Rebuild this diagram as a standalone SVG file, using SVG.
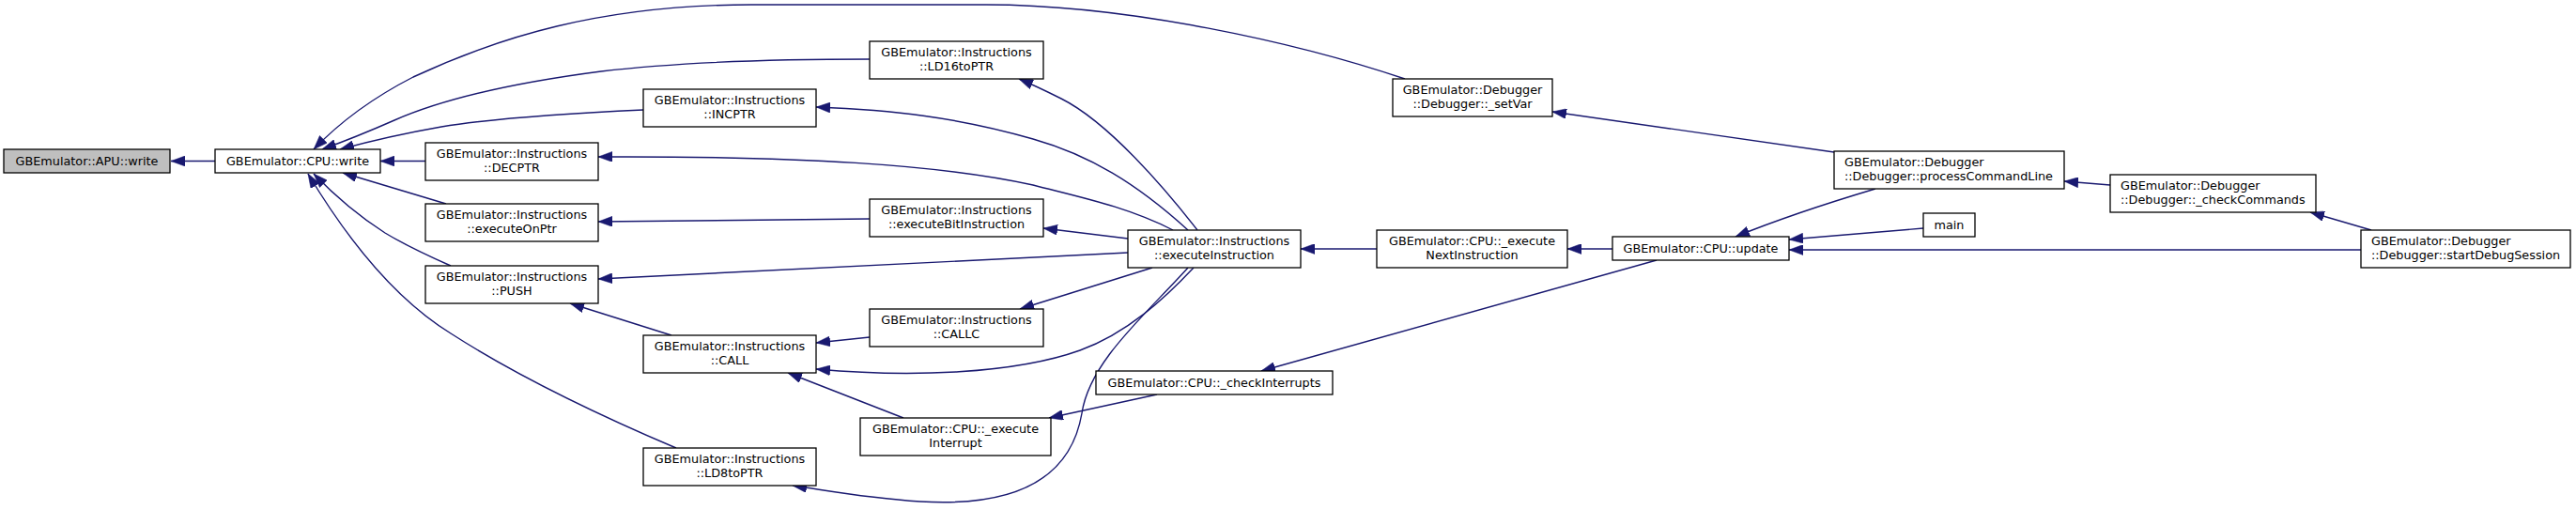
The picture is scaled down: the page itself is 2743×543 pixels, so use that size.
<svg xmlns="http://www.w3.org/2000/svg" width="2743" height="543" viewBox="0 0 2743 543">
<style>
.node rect{fill:#ffffff;stroke:#000000;stroke-width:1.3}
.root rect{fill:#bfbfbf}
text{font-family:"DejaVu Sans",sans-serif;font-size:12.8px;fill:#000000}
.c{text-anchor:middle}
.l{text-anchor:start}
.edge{fill:none;stroke:#191970;stroke-width:1.4;marker-end:url(#arr)}
</style>
<defs>
<marker id="arr" markerUnits="userSpaceOnUse" markerWidth="15" markerHeight="11" viewBox="0 0 15 11" refX="15" refY="5.5" orient="auto">
<path d="M0,0 L15,5.5 L0,11 z" fill="#191970" stroke="#191970" stroke-width="0.5"/>
</marker>
</defs>
<rect x="0" y="0" width="2743" height="543" fill="#ffffff"/>
<g id="edges">
<path class="edge" d="M229,171.5 L182,171.5"/>
<path class="edge" d="M1496,84 C1380,45 1200,5 1050,5 L800,5 C640,5 530,40 440,82 C395,105 360,132 334,159"/>
<path class="edge" d="M926,63 C850,63 740,64 640,76 C540,89 470,106 420,128 C395,139 368,150 343,159"/>
<path class="edge" d="M685,117 C620,120 530,125 470,135 C430,142 395,150 362,159"/>
<path class="edge" d="M453,171.5 L405,171.5"/>
<path class="edge" d="M475,217 L365,184"/>
<path class="edge" d="M480,283 C455,272 430,260 410,248 C385,232 360,212 334,185"/>
<path class="edge" d="M720,477 C640,443 550,400 480,355 C420,318 370,255 328,185"/>
<path class="edge" d="M1275,245 C1240,200 1180,130 1130,105 C1110,95 1097,89 1085,84"/>
<path class="edge" d="M1265,245 C1210,195 1160,165 1100,148 C1020,125 950,117 869,114"/>
<path class="edge" d="M1249,245 C1200,220 1150,210 1100,197 C1000,175 850,166 637,167"/>
<path class="edge" d="M926,233 L637,236"/>
<path class="edge" d="M1201,254 L1111,243"/>
<path class="edge" d="M1201,269 L637,297"/>
<path class="edge" d="M1227,285 L1086,329"/>
<path class="edge" d="M1271,285 C1240,318 1200,355 1150,373 C1080,398 970,402 869,393"/>
<path class="edge" d="M1265,285 C1220,335 1160,385 1152,440 C1140,510 1080,540 980,534 C920,530 880,522 844,517"/>
<path class="edge" d="M715,357 L607,323"/>
<path class="edge" d="M926,359 L869,365"/>
<path class="edge" d="M962,445 L839,397"/>
<path class="edge" d="M1232,420 L1117,445"/>
<path class="edge" d="M1466,265 L1385,265"/>
<path class="edge" d="M1717,265 L1669,265"/>
<path class="edge" d="M1764,277 L1343,395"/>
<path class="edge" d="M1953,162 L1653,119"/>
<path class="edge" d="M1997,201 C1950,215 1890,235 1848,252"/>
<path class="edge" d="M2048,243 L1905,255"/>
<path class="edge" d="M2514,266 L1905,266"/>
<path class="edge" d="M2247,197 L2198,193"/>
<path class="edge" d="M2525,245 L2460,226"/>
</g>
<g id="n_apu_write" class="node root"><rect x="4" y="159" width="177" height="25"/><text class="c" x="92.5" y="175.5">GBEmulator::APU::write</text></g>
<g id="n_cpu_write" class="node"><rect x="229" y="159" width="176" height="25"/><text class="c" x="317" y="175.5">GBEmulator::CPU::write</text></g>
<g id="n_ld16toptr" class="node"><rect x="926" y="44" width="185" height="40"/><text class="c" x="1018.5" y="60">GBEmulator::Instructions</text><text class="c" x="1018.5" y="75">::LD16toPTR</text></g>
<g id="n_incptr" class="node"><rect x="685" y="95" width="184" height="40"/><text class="c" x="777" y="111">GBEmulator::Instructions</text><text class="c" x="777" y="126">::INCPTR</text></g>
<g id="n_decptr" class="node"><rect x="453" y="152" width="184" height="40"/><text class="c" x="545" y="168">GBEmulator::Instructions</text><text class="c" x="545" y="183">::DECPTR</text></g>
<g id="n_executeonptr" class="node"><rect x="453" y="217" width="184" height="40"/><text class="c" x="545" y="233">GBEmulator::Instructions</text><text class="c" x="545" y="248">::executeOnPtr</text></g>
<g id="n_push" class="node"><rect x="453" y="283" width="184" height="40"/><text class="c" x="545" y="299">GBEmulator::Instructions</text><text class="c" x="545" y="314">::PUSH</text></g>
<g id="n_executebitinstruction" class="node"><rect x="926" y="212" width="185" height="40"/><text class="c" x="1018.5" y="228">GBEmulator::Instructions</text><text class="c" x="1018.5" y="243">::executeBitInstruction</text></g>
<g id="n_executeinstruction" class="node"><rect x="1201" y="245" width="184" height="40"/><text class="c" x="1293" y="261">GBEmulator::Instructions</text><text class="c" x="1293" y="276">::executeInstruction</text></g>
<g id="n_callc" class="node"><rect x="926" y="329" width="185" height="40"/><text class="c" x="1018.5" y="345">GBEmulator::Instructions</text><text class="c" x="1018.5" y="360">::CALLC</text></g>
<g id="n_call" class="node"><rect x="685" y="357" width="184" height="40"/><text class="c" x="777" y="373">GBEmulator::Instructions</text><text class="c" x="777" y="388">::CALL</text></g>
<g id="n_executeinterrupt" class="node"><rect x="916" y="445" width="203" height="40"/><text class="c" x="1017.5" y="461">GBEmulator::CPU::_execute</text><text class="c" x="1017.5" y="476">Interrupt</text></g>
<g id="n_ld8toptr" class="node"><rect x="685" y="477" width="184" height="40"/><text class="c" x="777" y="493">GBEmulator::Instructions</text><text class="c" x="777" y="508">::LD8toPTR</text></g>
<g id="n_checkinterrupts" class="node"><rect x="1167" y="395" width="252" height="25"/><text class="c" x="1293" y="411.5">GBEmulator::CPU::_checkInterrupts</text></g>
<g id="n_executenextinstruction" class="node"><rect x="1466" y="245" width="203" height="40"/><text class="c" x="1567.5" y="261">GBEmulator::CPU::_execute</text><text class="c" x="1567.5" y="276">NextInstruction</text></g>
<g id="n_cpu_update" class="node"><rect x="1717" y="252" width="188" height="25"/><text class="c" x="1811" y="268.5">GBEmulator::CPU::update</text></g>
<g id="n_setvar" class="node"><rect x="1483" y="84" width="170" height="40"/><text class="c" x="1568" y="100">GBEmulator::Debugger</text><text class="c" x="1568" y="115">::Debugger::_setVar</text></g>
<g id="n_processcommandline" class="node"><rect x="1953" y="161" width="245" height="40"/><text class="l" x="1964" y="177">GBEmulator::Debugger</text><text class="l" x="1964" y="192">::Debugger::processCommandLine</text></g>
<g id="n_main" class="node"><rect x="2048" y="227" width="55" height="25"/><text class="c" x="2075.5" y="243.5">main</text></g>
<g id="n_checkcommands" class="node"><rect x="2247" y="186" width="219" height="40"/><text class="l" x="2258" y="202">GBEmulator::Debugger</text><text class="l" x="2258" y="217">::Debugger::_checkCommands</text></g>
<g id="n_startdebugsession" class="node"><rect x="2514" y="245" width="223" height="40"/><text class="l" x="2525" y="261">GBEmulator::Debugger</text><text class="l" x="2525" y="276">::Debugger::startDebugSession</text></g>
</svg>
